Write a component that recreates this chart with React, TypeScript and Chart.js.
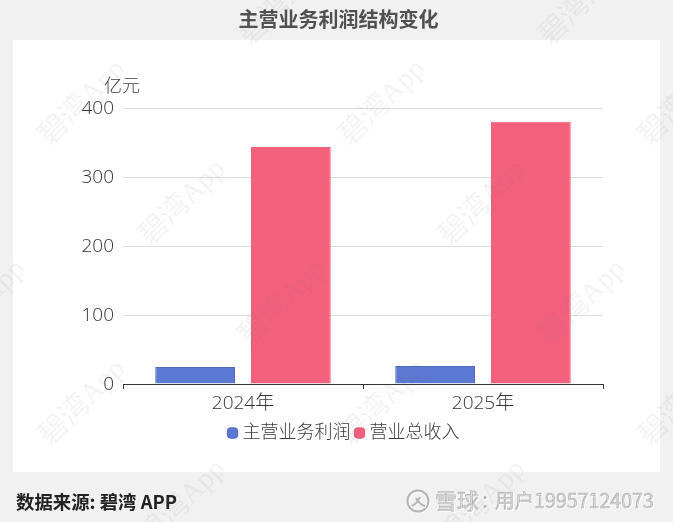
import React, { useEffect, useRef } from "react";
import { Chart, registerables } from "chart.js";

Chart.register(...registerables);

const categories = ["2024年", "2025年"];
const profit = [24.5, 26];
const revenue = [343.5, 380];
const seriesNames = ["主营业务利润", "营业总收入"];
const yTicks = [0, 100, 200, 300, 400];
const titleText = "主营业务利润结构变化";
const unitText = "亿元";
const sourceText = "数据来源: 碧湾 APP";
const markText = "碧湾App";
const brandText = "雪球";
const userText = "用户19957124073";

const FONT = '"Open Sans", "Noto Sans CJK SC", sans-serif';
const CJK = '"Noto Sans CJK SC", sans-serif';

const decorPlugin = {
  id: "decor",
  afterLayout(chart: any) {
    chart.legend.left += 4;
    chart.legend.right += 4;
  },
  beforeDraw(chart: any) {
    const c = chart.ctx;
    c.save();
    c.fillStyle = "#f1f1f1";
    c.fillRect(0, 0, chart.width, chart.height);
    c.fillStyle = "#ffffff";
    c.fillRect(13, 40, 647, 432);
    c.textBaseline = "middle";
    c.fillStyle = "#505050";
    c.font = `bold 20px ${CJK}`;
    c.textAlign = "center";
    c.fillText(titleText, 338.5, 19);
    c.fillStyle = "#444444";
    c.font = `300 18px ${CJK}`;
    c.fillText(unitText, 122, 85);
    c.textAlign = "left";
    c.fillStyle = "#222222";
    c.font = `bold 18.4px ${CJK}`;
    c.fillText(sourceText, 16, 502);
    c.restore();
  },
  afterDraw(chart: any) {
    const c = chart.ctx;
    c.save();
    c.font = `29px "Liberation Serif", ${CJK}`;
    c.fillStyle = "rgba(120,120,120,0.09)";
    c.textAlign = "center";
    c.textBaseline = "middle";
    for (let m = -1; m <= 4; m++) {
      for (let k = -2; k <= 2; k++) {
        c.save();
        c.translate(83 + 300 * k + 100 * m, 103 + 100 * m);
        c.rotate(-Math.PI / 4);
        c.fillText(markText, 0, 0);
        c.restore();
      }
    }
    c.restore();
    c.save();
    c.shadowColor = "rgba(255,255,255,0.95)";
    c.shadowBlur = 0;
    c.shadowOffsetX = 1;
    c.shadowOffsetY = 1;
    c.fillStyle = "#b4b4b4";
    c.strokeStyle = "#b4b4b4";
    c.lineWidth = 2;
    c.beginPath();
    c.arc(418, 501, 10.5, 0, Math.PI * 2);
    c.stroke();
    c.beginPath();
    c.moveTo(412, 506);
    c.quadraticCurveTo(418, 503, 420, 497);
    c.moveTo(416, 498);
    c.quadraticCurveTo(420, 505, 425, 506);
    c.stroke();
    c.textBaseline = "middle";
    c.textAlign = "left";
    c.font = `22px ${CJK}`;
    c.lineWidth = 0.5;
    c.fillText(brandText, 435, 501);
    c.strokeText(brandText, 435, 501);
    c.fillText(":", 482, 500);
    c.font = `19.6px ${CJK}`;
    c.fillText(userText, 495, 501);
    c.strokeText(userText, 495, 501);
    c.restore();
  },
};

export default function App() {
  const ref = useRef<HTMLCanvasElement>(null);
  useEffect(() => {
    document.body.style.margin = "0";
    const chart = new Chart(ref.current!, {
      type: "bar",
      data: {
        labels: categories,
        datasets: [
          {
            label: seriesNames[0],
            data: profit,
            backgroundColor: "#5b78d3",
            borderColor: "#4f69bb",
            borderWidth: 1,
          },
          {
            label: seriesNames[1],
            data: revenue,
            backgroundColor: "#f3607c",
            borderColor: "#ec5e7a",
            borderWidth: 1,
          },
        ],
      },
      plugins: [decorPlugin],
      options: {
        responsive: false,
        animation: false,
        devicePixelRatio: 1,
        barPercentage: 0.833,
        categoryPercentage: 0.798,
        layout: { padding: { top: 108, left: 80, right: 70, bottom: 70 } },
        plugins: {
          title: { display: false },
          tooltip: { enabled: false },
          legend: {
            position: "bottom",
            labels: {
              usePointStyle: true,
              pointStyle: "rectRounded",
              boxWidth: 2,
              boxHeight: 8.5,
              padding: 8,
              color: "#3a3a3a",
              font: { family: FONT, size: 18, weight: "300" },
            },
          },
        },
        scales: {
          x: {
            afterFit(s: any) {
              s.height = 32;
            },
            grid: {
              offset: true,
              drawOnChartArea: false,
              tickLength: 5,
              tickColor: "#333333",
            },
            border: { color: "#333333", width: 1 },
            ticks: {
              padding: 3,
              color: "#333333",
              font: { family: FONT, size: 19, weight: "300" },
            },
          },
          y: {
            min: 0,
            max: 400,
            afterFit(s: any) {
              s.width = 43;
            },
            afterBuildTicks(s: any) {
              s.ticks = yTicks.map((value) => ({ value }));
            },
            grid: { color: "#dddddd", drawTicks: false },
            border: { display: false },
            ticks: {
              padding: 9,
              labelOffset: 1,
              color: "#333333",
              font: { family: FONT, size: 19, weight: "300" },
            },
          },
        },
      } as any,
    });
    return () => chart.destroy();
  }, []);
  return <canvas ref={ref} width={673} height={522} style={{ display: "block" }} />;
}
